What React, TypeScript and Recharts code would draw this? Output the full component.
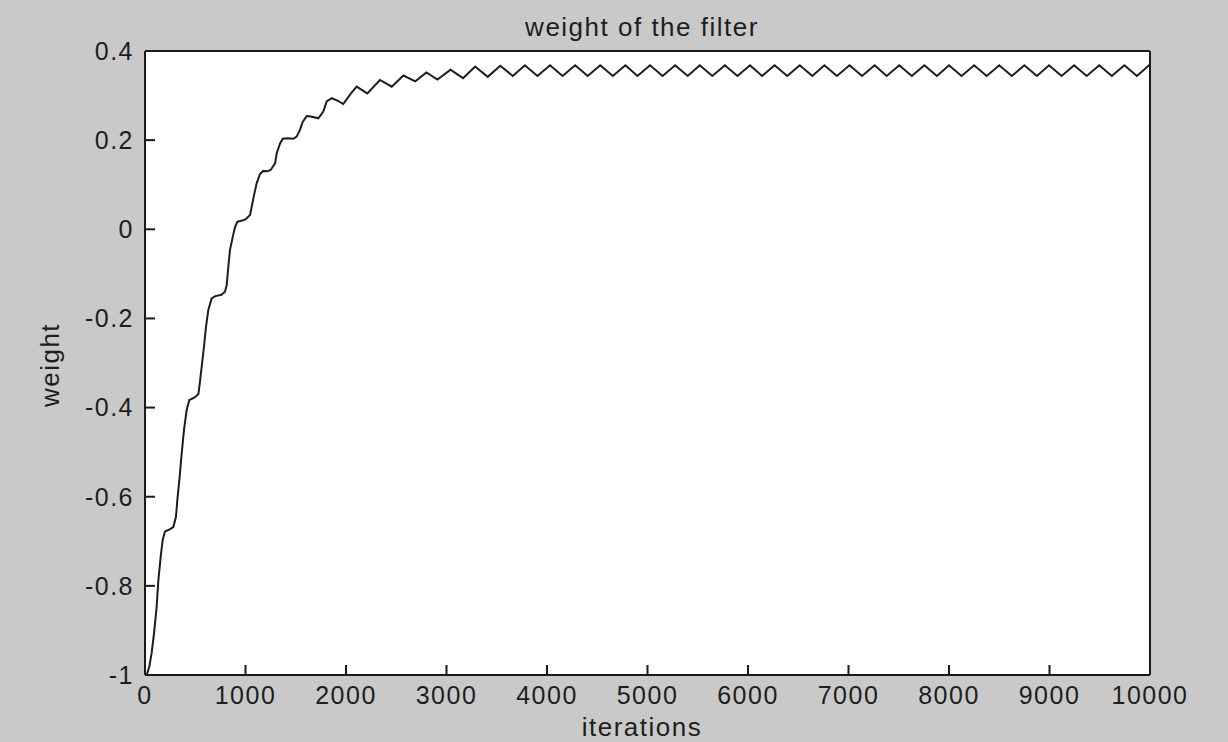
import React from "react";
import { Line, LineChart, XAxis, YAxis } from "recharts";

// iteration index of each sampled point
const iterations = [
  0, 17, 43, 66, 90, 116, 133, 156, 176, 199, 240, 282, 308, 322, 342, 365, 388,
  415, 441, 490, 531, 547, 564, 587, 607, 630, 663, 700, 760, 796, 813, 829,
  846, 873, 896, 920, 960, 1000, 1045, 1068, 1088, 1111, 1144, 1177, 1215,
  1250, 1294, 1310, 1343, 1370, 1420, 1476, 1509, 1542, 1569, 1609, 1650, 1725,
  1774, 1808, 1858, 1920, 1973, 2040, 2106, 2212, 2338, 2455, 2571, 2690, 2800,
  2910, 3040, 3165, 3285, 3410, 3535, 3660, 3780, 3905, 4030, 4155, 4280, 4405,
  4530, 4655, 4780, 4900, 5025, 5150, 5275, 5400, 5520, 5645, 5770, 5895, 6020,
  6140, 6265, 6390, 6515, 6640, 6760, 6885, 7010, 7135, 7260, 7380, 7505, 7630,
  7755, 7880, 8000, 8125, 8250, 8375, 8500, 8625, 8750, 8875, 8995, 9120, 9245,
  9370, 9495, 9620, 9745, 9870, 9990, 10000,
];

// filter weight at each of those iterations
const weights = [
  -1.0, -1.0, -0.981, -0.951, -0.906, -0.847, -0.787, -0.735, -0.697, -0.678,
  -0.674, -0.668, -0.645, -0.607, -0.562, -0.503, -0.45, -0.405, -0.383, -0.378,
  -0.37, -0.342, -0.308, -0.263, -0.219, -0.181, -0.155, -0.15, -0.147, -0.14,
  -0.125, -0.084, -0.046, -0.017, 0.005, 0.017, 0.019, 0.022, 0.032, 0.058, 0.08,
  0.103, 0.124, 0.131, 0.13, 0.133, 0.148, 0.17, 0.192, 0.203, 0.204, 0.203,
  0.208, 0.223, 0.241, 0.254, 0.253, 0.249, 0.264, 0.287, 0.294, 0.288, 0.281,
  0.302, 0.32, 0.305, 0.335, 0.32, 0.345, 0.332, 0.352, 0.336, 0.358, 0.339,
  0.365, 0.342, 0.367, 0.344, 0.368, 0.344, 0.368, 0.344, 0.368, 0.344, 0.368,
  0.344, 0.368, 0.344, 0.368, 0.344, 0.368, 0.344, 0.368, 0.344, 0.368, 0.344,
  0.368, 0.344, 0.368, 0.344, 0.368, 0.344, 0.368, 0.344, 0.368, 0.344, 0.368,
  0.344, 0.368, 0.344, 0.368, 0.344, 0.368, 0.344, 0.368, 0.344, 0.368, 0.344,
  0.368, 0.344, 0.368, 0.344, 0.368, 0.344, 0.368, 0.344, 0.368, 0.344, 0.368,
  0.366,
];

const xTicks = [0, 1000, 2000, 3000, 4000, 5000, 6000, 7000, 8000, 9000, 10000];
const yTicks = [-1, -0.8, -0.6, -0.4, -0.2, 0, 0.2, 0.4];

const data = iterations.map((it, i) => ({ it, w: weights[i] }));

const FONT = '"Liberation Sans", Arial, Helvetica, sans-serif';
const INK = "#1e1e1e";
const AXIS = "#1a1a1a";
const tickStyle = { fontSize: 25, fill: INK };
const tickLineStyle = { stroke: AXIS, strokeWidth: 2 };

export default function App() {
  return (
    <div
      style={{
        position: "absolute",
        left: 0,
        top: 0,
        zIndex: 0,
        width: 1228,
        height: 742,
        background: "#c9c9c9",
        fontFamily: FONT,
        letterSpacing: 1.5,
        color: INK,
      }}
    >
      {/* white axes box, kept under the svg */}
      <div
        style={{ position: "absolute", zIndex: -1, left: 145, top: 51, width: 1005, height: 624, background: "#fff" }}
      />
      <LineChart
        width={1228}
        height={742}
        data={data}
        margin={{ top: 46, right: 73, bottom: 37, left: 65 }}
      >
        {/* negative tickSize turns the tick marks inward, matlab style */}
        <XAxis
          dataKey="it"
          type="number"
          domain={[0, 10000]}
          ticks={xTicks}
          interval={0}
          height={30}
          tickSize={-10}
          tickMargin={21}
          tickLine={tickLineStyle}
          tick={tickStyle}
          stroke={AXIS}
          strokeWidth={2}
          allowDataOverflow
        />
        <XAxis
          xAxisId="top"
          dataKey="it"
          orientation="top"
          type="number"
          domain={[0, 10000]}
          ticks={xTicks}
          interval={0}
          height={5}
          tickSize={-10}
          tickLine={tickLineStyle}
          tick={false}
          stroke={AXIS}
          strokeWidth={2}
          allowDataOverflow
        />
        <YAxis
          type="number"
          domain={[-1, 0.4]}
          ticks={yTicks}
          interval={0}
          width={80}
          tickSize={-10}
          tickMargin={21}
          tickLine={tickLineStyle}
          tick={tickStyle}
          stroke={AXIS}
          strokeWidth={2}
          allowDataOverflow
        />
        <YAxis
          yAxisId="right"
          orientation="right"
          type="number"
          domain={[-1, 0.4]}
          ticks={yTicks}
          interval={0}
          width={5}
          tickSize={-10}
          tickLine={tickLineStyle}
          tick={false}
          stroke={AXIS}
          strokeWidth={2}
          allowDataOverflow
        />
        <Line
          type="linear"
          dataKey="w"
          stroke="#1b1b2b"
          strokeWidth={2}
          dot={false}
          isAnimationActive={false}
        />
        {/* invisible twin so the box axes (top / right) get their ticks */}
        <Line
          xAxisId="top"
          yAxisId="right"
          type="linear"
          dataKey="w"
          stroke="none"
          dot={false}
          activeDot={false}
          legendType="none"
          isAnimationActive={false}
        />
      </LineChart>
      <div
        style={{
          position: "absolute",
          left: 442,
          width: 400,
          top: 12,
          textAlign: "center",
          fontSize: 26,
          lineHeight: "30px",
        }}
      >
        weight of the filter
      </div>
      <div
        style={{
          position: "absolute",
          left: 442,
          width: 400,
          top: 712,
          textAlign: "center",
          fontSize: 26,
          lineHeight: "30px",
        }}
      >
        iterations
      </div>
      <div
        style={{
          position: "absolute",
          left: 50 - 100,
          width: 200,
          top: 365 - 15,
          textAlign: "center",
          fontSize: 26,
          lineHeight: "30px",
          transform: "rotate(-90deg)",
        }}
      >
        weight
      </div>
    </div>
  );
}
